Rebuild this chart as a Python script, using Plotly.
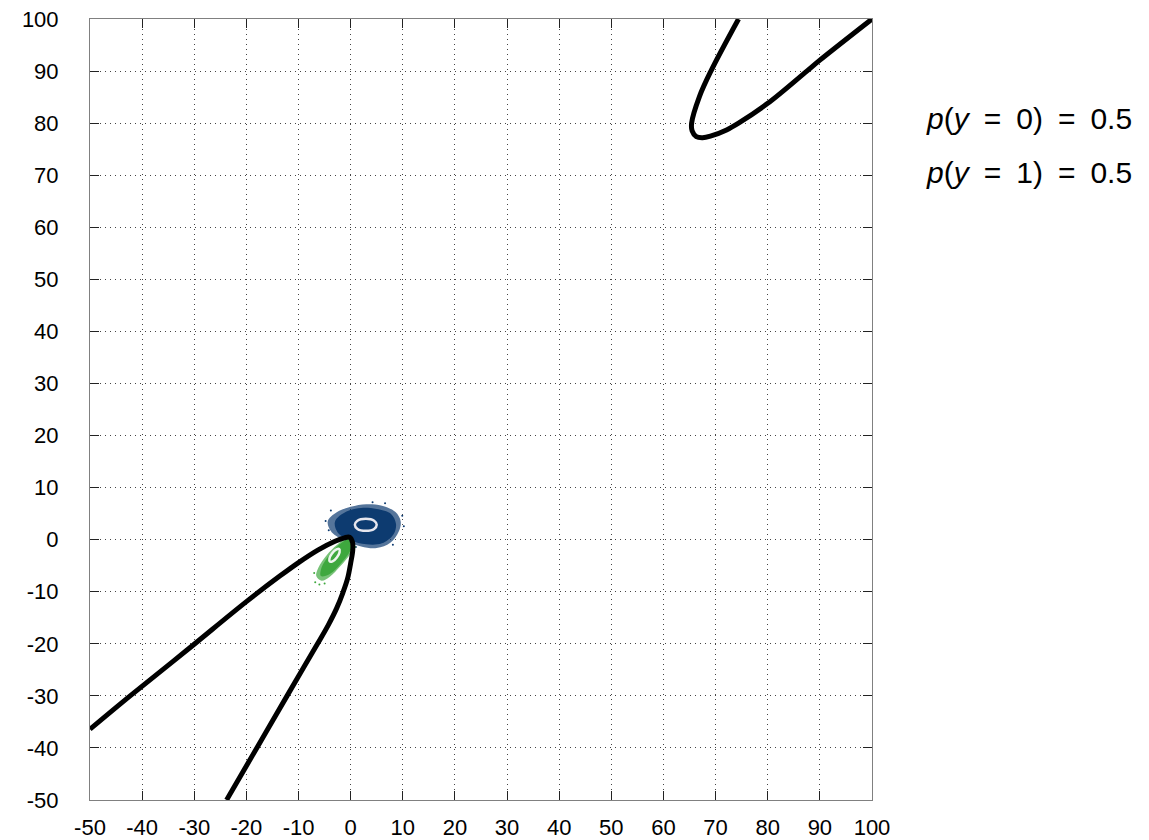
import plotly.graph_objects as go

# ---- data ----
tick_vals = [-50, -40, -30, -20, -10, 0, 10, 20, 30, 40, 50, 60, 70, 80, 90, 100]
tick_text = ["-50", "-40", "-30", "-20", "-10", "0", "10", "20", "30", "40",
             "50", "60", "70", "80", "90", "100"]

# decision boundary, lower-left branch pair (one continuous curve)
bound_lower_x = [-50, -42.3, -31.5, -20, -13.6, -10, -6.3, -3.0, -1.2, -0.2, 0.35,
                 0.4, 0.0, -0.6, -1.5, -2.7, -4.3, -6.3, -9.0, -12.2, -18, -23.8]
bound_lower_y = [-36.4, -30, -21.3, -11.9, -7.0, -4.4, -2.0, -0.3, 0.35, 0.45, -0.5,
                 -2.0, -4.5, -7.5, -10.2, -13.2, -16.4, -19.9, -24.5, -30.0, -40, -50]

# decision boundary, upper-right branch
bound_upper_x = [74.4, 69.1, 66.9, 65.4, 65.5, 66.3, 67.5, 69.0, 72.1, 74.4, 80, 87.5, 90, 100]
bound_upper_y = [100, 90, 85.1, 80, 78.5, 77.4, 77.2, 77.5, 78.7, 80, 83.8, 90, 92.1, 100]

# class y=0 (blue) sample cloud outline
blue_outer_x = [9.6, 8.6, 6.0, 3.0, 0.0, -2.6, -4.4, -3.6, -1.2, 2.0, 5.0, 7.6, 9.2, 9.6]
blue_outer_y = [3.5, 5.3, 6.5, 6.8, 6.3, 5.3, 3.5, 1.4, -0.1, -1.3, -1.6, -0.6, 1.5, 3.5]
blue_core_x = [8.7, 7.7, 5.0, 2.0, -0.8, -3.0, -2.5, 0.0, 3.0, 6.0, 8.2, 8.7]
blue_core_y = [3.0, 5.0, 5.9, 6.1, 5.4, 3.5, 1.4, -0.1, -0.9, -0.7, 1.0, 3.0]
blue_ring_x = [5.0, 4.5, 2.9, 1.3, 0.8, 1.3, 2.9, 4.5, 5.0]
blue_ring_y = [2.85, 3.65, 4.0, 3.65, 2.85, 2.05, 1.7, 2.05, 2.85]
blue_stray_x = [-4.8, 9.9, 6.6, -3.8, 8.1, 1.0, 10.2, -4.2, 4.2]
blue_stray_y = [3.6, 4.6, 7.0, 5.6, -1.0, -1.4, 2.6, 1.8, 7.2]

# class y=1 (green) sample cloud outline
green_outer_x = [-0.6, 0.6, 0.0, -2.0, -4.0, -5.6, -6.6, -6.2, -4.6, -2.6, -0.6]
green_outer_y = [0.4, -0.8, -2.6, -5.1, -7.1, -7.9, -7.0, -5.4, -3.0, -1.0, 0.4]
green_core_x = [-0.4, 0.0, -1.8, -4.0, -5.7, -5.6, -3.8, -1.6, -0.4]
green_core_y = [0.0, -1.8, -4.5, -6.6, -7.0, -5.4, -2.6, -0.5, 0.0]
green_ring_x = [-2.2, -2.8, -3.58, -4.07, -4.0, -3.4, -2.62, -2.13, -2.2]
green_ring_y = [-1.8, -1.9, -2.64, -3.6, -4.2, -4.1, -3.36, -2.4, -1.8]
green_stray_x = [-6.8, -7.0, -5.0, 0.8, -6.0]
green_stray_y = [-8.2, -6.4, -8.4, -1.4, -8.6]

prior_texts = ["<i>p</i>(<i>y</i>\u2002=\u20020)\u2002=\u20020.5",
               "<i>p</i>(<i>y</i>\u2002=\u20021)\u2002=\u20020.5"]

BLUE = "#0d3b70"
GREEN = "#3ea83e"

fig = go.Figure()

# blue cloud
fig.add_trace(go.Scatter(x=blue_outer_x, y=blue_outer_y, mode="lines", line_shape="spline",
                         fill="toself", fillcolor="rgba(13,59,112,0.7)",
                         line=dict(width=0), hoverinfo="skip"))
fig.add_trace(go.Scatter(x=blue_core_x, y=blue_core_y, mode="lines", line_shape="spline",
                         fill="toself", fillcolor=BLUE, line=dict(width=0), hoverinfo="skip"))
fig.add_trace(go.Scatter(x=blue_stray_x, y=blue_stray_y, mode="markers",
                         marker=dict(size=2, color=BLUE), hoverinfo="skip"))
fig.add_trace(go.Scatter(x=blue_ring_x, y=blue_ring_y, mode="lines", line_shape="spline",
                         line=dict(color="#e6e6ee", width=2.5), hoverinfo="skip"))

# green cloud
fig.add_trace(go.Scatter(x=green_outer_x, y=green_outer_y, mode="lines", line_shape="spline",
                         fill="toself", fillcolor="rgba(62,168,62,0.7)",
                         line=dict(width=0), hoverinfo="skip"))
fig.add_trace(go.Scatter(x=green_core_x, y=green_core_y, mode="lines", line_shape="spline",
                         fill="toself", fillcolor=GREEN, line=dict(width=0), hoverinfo="skip"))
fig.add_trace(go.Scatter(x=green_stray_x, y=green_stray_y, mode="markers",
                         marker=dict(size=2, color=GREEN), hoverinfo="skip"))
fig.add_trace(go.Scatter(x=green_ring_x, y=green_ring_y, mode="lines", line_shape="spline",
                         line=dict(color="#eef5ee", width=2.5), hoverinfo="skip"))

# decision boundary
fig.add_trace(go.Scatter(x=bound_lower_x, y=bound_lower_y, mode="lines", line_shape="spline",
                         line=dict(color="black", width=5), hoverinfo="skip"))
fig.add_trace(go.Scatter(x=bound_upper_x, y=bound_upper_y, mode="lines", line_shape="spline",
                         line=dict(color="black", width=5), hoverinfo="skip"))

axis_common = dict(
    range=[-50, 100], tickvals=tick_vals, ticktext=tick_text,
    showgrid=True, gridcolor="#444", griddash="1px,4px", gridwidth=1,
    zeroline=False, showline=True, linecolor="#808080", linewidth=1,
    mirror="allticks", ticks="inside", ticklen=9, tickcolor="#222", tickwidth=1,
    tickfont=dict(family="Liberation Sans, Arial, sans-serif", size=22, color="black"),
    fixedrange=True, automargin=False, ticklabeloverflow="allow",
)

# page body has an 8px margin, so the figure is sized to fit the 1149x840 window
fig.update_layout(
    width=1141, height=832,
    margin=dict(l=82, r=277, t=11, b=40),
    paper_bgcolor="white", plot_bgcolor="white",
    showlegend=False,
    xaxis=dict(**axis_common, ticklabelstandoff=8),
    yaxis=dict(**axis_common, ticklabelstandoff=26),
)

for i, (txt, yp) in enumerate(zip(prior_texts, [0.873, 0.803])):
    fig.add_annotation(text=txt, xref="paper", yref="paper", x=1.066, y=yp,
                       xanchor="left", yanchor="middle", showarrow=False,
                       font=dict(family="Liberation Sans, Arial, sans-serif", size=30, color="black"))

fig.write_html("out.html")
